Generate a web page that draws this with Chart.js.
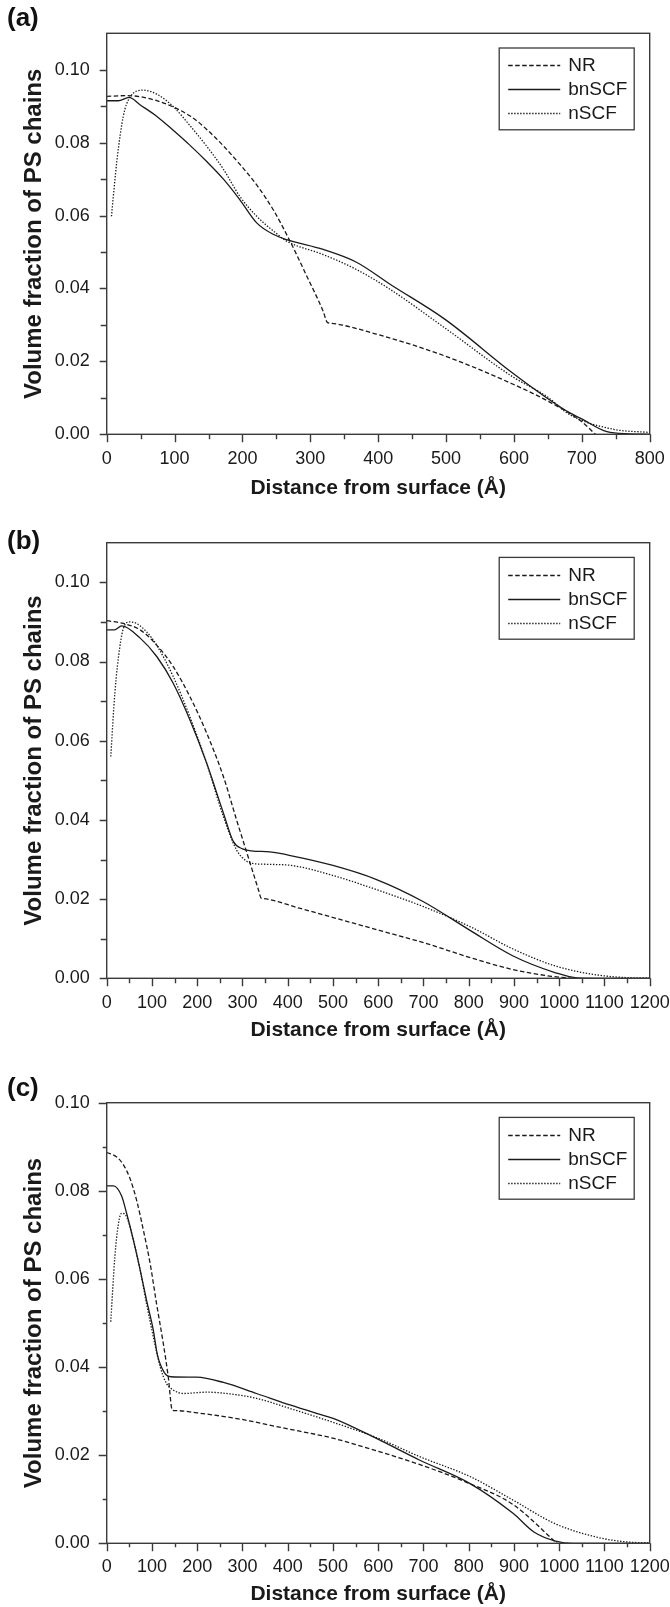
<!DOCTYPE html>
<html><head><meta charset="utf-8">
<script src="https://cdn.jsdelivr.net/npm/chart.js@4.4.1/dist/chart.umd.min.js"></script>
<style>
html,body{margin:0;padding:0;background:#fff;}
#wrap{position:relative;width:670px;height:1607px;overflow:hidden;background:#fff;}
canvas{position:absolute;left:0;}
.lab{position:absolute;left:7px;font:bold 26px "Liberation Sans",Arial,sans-serif;line-height:26px;color:#111;}
</style></head><body>
<div id="wrap">
<canvas id="ca" width="670" height="520" style="top:0px;width:670px;height:520px"></canvas>
<canvas id="cb" width="670" height="540" style="top:520px;width:670px;height:540px"></canvas>
<canvas id="cc" width="670" height="547" style="top:1060px;width:670px;height:547px"></canvas>
<div class="lab" style="top:4px">(a)</div>
<div class="lab" style="top:527px">(b)</div>
<div class="lab" style="top:1074px">(c)</div>
</div>
<script>
// ---------- data (distance in Å, volume fraction) ----------
const SERIES_LABELS = ['NR', 'bnSCF', 'nSCF'];

// Panel (a)
const A_NR_X = [0, 30, 74, 123, 147, 172, 196, 221, 246, 270, 295, 319, 325, 331, 397, 498, 598, 649, 699, 720];
const A_NR_Y = [0.0927, 0.0929, 0.0915, 0.0873, 0.0837, 0.0791, 0.0741, 0.0684, 0.0614, 0.0530, 0.0433, 0.0337, 0.0307, 0.03044, 0.0275, 0.0215, 0.0138, 0.0092, 0.0036, 0.0];
const A_BN_X = [0, 17, 33, 49, 74, 98, 122, 147, 172, 196, 221, 246, 265, 319, 368, 418, 498, 598, 649, 683, 699, 737, 770, 800];
const A_BN_Y = [0.0915, 0.0915, 0.0924, 0.0904, 0.0872, 0.0834, 0.0794, 0.0749, 0.0700, 0.0644, 0.0580, 0.0548, 0.0534, 0.0507, 0.0472, 0.0411, 0.0316, 0.0168, 0.0099, 0.0058, 0.0043, 0.0007, 0.0001, 0.0];
const A_N_X = [7, 15, 24.5, 34, 54, 74, 98, 123, 147, 172, 196, 221, 246, 265, 319, 368, 418, 498, 598, 649, 683, 746, 800];
const A_N_Y = [0.0598, 0.0750, 0.0873, 0.0924, 0.0944, 0.0933, 0.0899, 0.0846, 0.0791, 0.0727, 0.0653, 0.0598, 0.0557, 0.0530, 0.0493, 0.0452, 0.0397, 0.0292, 0.0158, 0.0103, 0.0053, 0.0014, 0.0005];

// Panel (b)
const B_NR_X = [0, 37, 74, 110, 147, 184, 221, 258, 287, 310, 336, 341, 348, 426, 521, 615, 709, 804, 898, 983, 1030];
const B_NR_Y = [0.0903, 0.0896, 0.0880, 0.0842, 0.0787, 0.0711, 0.0619, 0.0509, 0.0400, 0.0316, 0.0221, 0.0203, 0.0201, 0.0177, 0.0147, 0.0117, 0.0087, 0.0052, 0.0022, 0.0005, 0.0];
const B_BN_X = [0, 18, 33, 74, 111, 147, 184, 221, 258, 280, 300, 320, 360, 406, 500, 595, 699, 803, 897, 992, 1040, 1100, 1200];
const B_BN_Y = [0.0880, 0.0880, 0.0890, 0.0859, 0.0812, 0.0745, 0.0652, 0.0543, 0.0417, 0.0345, 0.0327, 0.0322, 0.0319, 0.0310, 0.0285, 0.0250, 0.0194, 0.0121, 0.0057, 0.0014, 0.0001, 0.0, 0.0];
const B_N_X = [9, 18, 29, 37, 51, 66, 88, 110, 147, 184, 221, 258, 287, 310, 323, 350, 408, 502, 596, 700, 804, 898, 992, 1087, 1181, 1200];
const B_N_Y = [0.0560, 0.0720, 0.0837, 0.0884, 0.0900, 0.0896, 0.0875, 0.0842, 0.0762, 0.0660, 0.0543, 0.0408, 0.0324, 0.0295, 0.0290, 0.0288, 0.0285, 0.0259, 0.0224, 0.0181, 0.0130, 0.0074, 0.0031, 0.0008, 0.0001, 0.0001];

// Panel (c)
const C_NR_X = [0, 22, 37, 51.5, 66, 81, 96, 110, 125, 136, 145, 152, 200, 294, 389, 502, 596, 691, 794, 898, 995];
const C_NR_Y = [0.0887, 0.0877, 0.0859, 0.0828, 0.0779, 0.0711, 0.0635, 0.0545, 0.0454, 0.0378, 0.0302, 0.03012, 0.0296, 0.0282, 0.0262, 0.0238, 0.0210, 0.0179, 0.0139, 0.0088, 0.0];
const C_BN_X = [0, 15, 33, 44, 59, 74, 88, 103, 112, 127, 142, 199, 258, 331, 405, 457, 502, 596, 691, 804, 898, 945, 992, 1030, 1100, 1200];
const C_BN_Y = [0.0811, 0.0811, 0.0788, 0.0749, 0.0688, 0.0620, 0.0552, 0.0484, 0.0428, 0.0388, 0.0378, 0.0377, 0.0365, 0.0340, 0.0314, 0.0297, 0.0283, 0.0238, 0.0189, 0.0135, 0.0068, 0.0025, 0.0005, 0.0, 0.0, 0.0];
const C_N_X = [9, 18, 26, 33, 44, 59, 74, 88, 103, 118, 132, 147, 169, 221, 273, 331, 405, 502, 596, 691, 804, 898, 992, 1087, 1150, 1200];
const C_N_Y = [0.0503, 0.0650, 0.0726, 0.0749, 0.0741, 0.0688, 0.0620, 0.0544, 0.0469, 0.0401, 0.0363, 0.0348, 0.0340, 0.0343, 0.0339, 0.0329, 0.0306, 0.0274, 0.0240, 0.0197, 0.0151, 0.0098, 0.0044, 0.0013, 0.0003, 0.0001];

// ticks
const X_TICKS_A = [0, 100, 200, 300, 400, 500, 600, 700, 800];
const X_MINOR_A = [50, 150, 250, 350, 450, 550, 650, 750];
const X_TICKS_BC = [0, 100, 200, 300, 400, 500, 600, 700, 800, 900, 1000, 1100, 1200];
const X_MINOR_BC = [50, 150, 250, 350, 450, 550, 650, 750, 850, 950, 1050, 1150];
const Y_TICKS = [0, 0.02, 0.04, 0.06, 0.08, 0.10];
const Y_MINOR = [0.01, 0.03, 0.05, 0.07, 0.09];

const X_TITLE = 'Distance from surface (Å)';
const Y_TITLE = 'Volume fraction of PS chains';

// ---------- rendering ----------
const FONT = '"Liberation Sans", Arial, Helvetica, sans-serif';
Chart.defaults.font.family = FONT;
const INK = '#1a1a1a';
const AXIS = '#3a3a3a';
const DASHES = [[4.5, 2.5], [], [1.4, 1.6]];

function pts(xs, ys) { return xs.map((x, i) => ({ x: x, y: ys[i] })); }

const framePlugin = {
  id: 'frame',
  afterDatasetsDraw(chart, args, o) {
    const { ctx, chartArea: a } = chart;
    const x = chart.scales.x, y = chart.scales.y;
    ctx.save();
    ctx.strokeStyle = AXIS;
    ctx.lineWidth = 1.4;
    ctx.setLineDash([]);
    ctx.strokeRect(a.left, a.top, a.right - a.left, a.bottom - a.top);
    ctx.beginPath();
    o.xMajor.forEach(v => { const p = Math.round(x.getPixelForValue(v)) + 0.5; ctx.moveTo(p, a.bottom); ctx.lineTo(p, a.bottom + o.xMajLen); });
    o.xMinor.forEach(v => { const p = Math.round(x.getPixelForValue(v)) + 0.5; ctx.moveTo(p, a.bottom); ctx.lineTo(p, a.bottom + o.xMinLen); });
    o.yMajor.forEach(v => { const p = Math.round(y.getPixelForValue(v)) + 0.5; ctx.moveTo(a.left, p); ctx.lineTo(a.left - o.yMajLen, p); });
    o.yMinor.forEach(v => { const p = Math.round(y.getPixelForValue(v)) + 0.5; ctx.moveTo(a.left, p); ctx.lineTo(a.left - o.yMinLen, p); });
    ctx.stroke();
    ctx.restore();
  }
};

const boxLegendPlugin = {
  id: 'boxLegend',
  afterDraw(chart) {
    const { ctx, chartArea: a } = chart;
    const L = a.right - 150.5, R = a.right - 15.5, T = a.top + 14.7, B = a.top + 96.5;
    ctx.save();
    ctx.fillStyle = '#fff';
    ctx.fillRect(L, T, R - L, B - T);
    ctx.strokeStyle = AXIS;
    ctx.lineWidth = 1.3;
    ctx.setLineDash([]);
    ctx.strokeRect(L, T, R - L, B - T);
    chart.data.datasets.forEach((ds, i) => {
      const yy = Math.round(a.top + 32 + i * 24) + 0.5;
      ctx.beginPath();
      ctx.setLineDash(ds.borderDash || []);
      ctx.strokeStyle = ds.borderColor;
      ctx.lineWidth = ds.borderWidth;
      ctx.moveTo(L + 9, yy);
      ctx.lineTo(L + 61, yy);
      ctx.stroke();
      ctx.setLineDash([]);
      ctx.fillStyle = INK;
      ctx.font = '19px ' + FONT;
      ctx.textAlign = 'left';
      ctx.textBaseline = 'middle';
      ctx.fillText(ds.label, L + 69, yy);
    });
    ctx.restore();
  }
};

function makeChart(id, c) {
  const sets = [c.nr, c.bn, c.n].map((s, i) => ({
    label: SERIES_LABELS[i],
    data: pts(s[0], s[1]),
    borderColor: INK,
    borderWidth: 1.3,
    borderDash: DASHES[i],
    pointRadius: 0,
    fill: false,
    cubicInterpolationMode: 'monotone'
  }));
  return new Chart(document.getElementById(id), {
    type: 'line',
    data: { datasets: sets },
    options: {
      responsive: false,
      animation: false,
      devicePixelRatio: 1,
      events: [],
      layout: { padding: { top: c.padTop, right: 20.3, left: 0, bottom: 0 } },
      plugins: {
        legend: { display: false },
        tooltip: { enabled: false },
        frame: { xMajor: c.xTicks, xMinor: c.xMinor, yMajor: Y_TICKS, yMinor: Y_MINOR,
                 xMajLen: 8, xMinLen: c.xMinLen, yMajLen: c.yMajLen, yMinLen: c.yMinLen }
      },
      scales: {
        x: {
          type: 'linear', min: 0, max: c.xmax,
          afterBuildTicks: s => { s.ticks = c.xTicks.map(v => ({ value: v })); },
          afterFit: s => { s.height = c.xHeight; s.paddingLeft = 0; s.paddingRight = 0; },
          ticks: { autoSkip: false, maxRotation: 0, minRotation: 0, padding: c.xPad, color: INK,
                   font: { size: 18 }, callback: v => String(v) },
          grid: { display: false, drawTicks: true, tickLength: 8 },
          border: { display: false },
          title: { display: true, text: X_TITLE, color: INK, font: { size: 21, weight: 'bold' },
                   padding: { top: 0, bottom: c.xTitlePad } }
        },
        y: {
          type: 'linear', min: 0, max: c.ymax,
          afterBuildTicks: s => { s.ticks = Y_TICKS.map(v => ({ value: v })); },
          afterFit: s => { s.width = 106.7; s.paddingTop = 0; s.paddingBottom = 0; },
          ticks: { padding: 10, color: INK, font: { size: 18 }, callback: v => Number(v).toFixed(2) },
          grid: { display: false, drawTicks: true, tickLength: 7 },
          border: { display: false },
          title: { display: true, text: Y_TITLE, color: INK, font: { size: 24, weight: 'bold' },
                   padding: { top: 19.5, bottom: 0 } }
        }
      }
    },
    plugins: [framePlugin, boxLegendPlugin]
  });
}

makeChart('ca', { nr: [A_NR_X, A_NR_Y], bn: [A_BN_X, A_BN_Y], n: [A_N_X, A_N_Y],
  xmax: 800, ymax: 0.11, xTicks: X_TICKS_A, xMinor: X_MINOR_A,
  padTop: 33.3, xHeight: 85.7, xPad: 6, xTitlePad: 19, xMinLen: 5, yMajLen: 7, yMinLen: 6 });
makeChart('cb', { nr: [B_NR_X, B_NR_Y], bn: [B_BN_X, B_BN_Y], n: [B_N_X, B_N_Y],
  xmax: 1200, ymax: 0.11, xTicks: X_TICKS_BC, xMinor: X_MINOR_BC,
  padTop: 22.7, xHeight: 81.7, xPad: 6, xTitlePad: 17, xMinLen: 5, yMajLen: 7, yMinLen: 6 });
makeChart('cc', { nr: [C_NR_X, C_NR_Y], bn: [C_BN_X, C_BN_Y], n: [C_N_X, C_N_Y],
  xmax: 1200, ymax: 0.10, xTicks: X_TICKS_BC, xMinor: X_MINOR_BC,
  padTop: 42.7, xHeight: 63.7, xPad: 5, xTitlePad: 0, xMinLen: 4, yMajLen: 8, yMinLen: 4 });
</script>
</body></html>
